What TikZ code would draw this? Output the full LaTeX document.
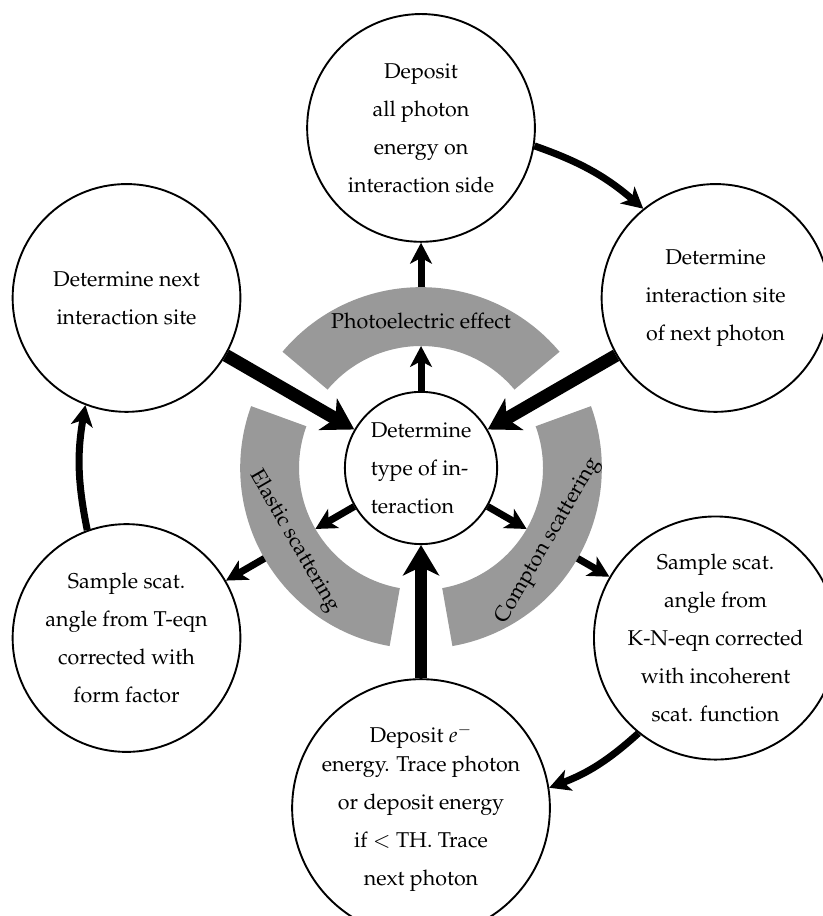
\documentclass[tikz,border=0pt]{standalone}
\usepackage[T1]{fontenc}
\usepackage{mathpazo}
\usetikzlibrary{arrows.meta}

\begin{document}
\begin{tikzpicture}[
    >=Stealth,
    stage/.style={circle, draw, line width=1pt, minimum size=4.22cm, inner sep=0pt,
      align=center, fill=white, font={\fontsize{11.3}{20}\selectfont}},
    core/.style={circle, draw, line width=1pt, minimum size=2.82cm, inner sep=0pt,
      align=left, fill=white, font={\fontsize{11.3}{20}\selectfont}},
    band/.style={fill=black!40},
    bandlab/.style={font={\fontsize{11.3}{13}\selectfont}},
    flow/.style={-{Stealth[length=11pt, width=11.5pt, inset=3pt]}, line width=3.7pt},
    mainflow/.style={-{Stealth[length=16pt, width=19pt, inset=4.5pt]}, line width=6.8pt}
  ]
  \useasboundingbox (-7.80,-8.30) rectangle (7.43,8.67);

  \foreach \a in {40,160,280}
    \fill[band] (\a:2.26) arc[start angle=\a, end angle=\a+100, radius=2.26]
      -- (\a+100:3.35) arc[start angle=\a+100, end angle=\a, radius=3.35] -- cycle;
  \node[bandlab] (pelab) at (90:2.72) {Photoelectric effect};
  \node[bandlab, rotate=-60] (ellab) at (210:2.72) {Elastic scattering};
  \node[bandlab, rotate=60] (colab) at (330:2.72) {Compton scattering};

  \node[core] (type) at (0,0) {Determine\\type of in-\\teraction};
  \node[stage] (photo) at (90:6.3) {Deposit\\all photon\\energy on\\interaction side};
  \node[stage] (nextphot) at (30:6.3) {Determine\\interaction site\\of next photon};
  \node[stage] (kn) at (-30:6.3) {Sample scat.\\angle from\\K-N-eqn corrected\\with incoherent\\scat. function};
  \node[stage] (trace) at (-90:6.3) {Deposit $e^-$\\[-5pt]energy. Trace photon\\or deposit energy\\if $<$ TH. Trace\\next photon};
  \node[stage] (thomson) at (210:6.3) {Sample scat.\\angle from T-eqn\\corrected with\\form factor};
  \node[stage] (nextsite) at (150:6.3) {Determine next\\interaction site};

  \coordinate (pein) at (90:2.26);
  \coordinate (peout) at (90:3.35);
  \coordinate (elin) at (210:2.26);
  \coordinate (elout) at (210:3.35);
  \coordinate (coin) at (330:2.26);
  \coordinate (coout) at (330:3.35);

  \draw[flow] (type) -- (pein);
  \draw[flow] (peout) -- (photo);
  \draw[flow] (type) -- (elin);
  \draw[flow] (elout) -- (thomson);
  \draw[flow] (type) -- (coin);
  \draw[flow] (coout) -- (kn);

  \draw[mainflow] (nextsite) -- (type);
  \draw[mainflow] (nextphot) -- (type);
  \draw[mainflow] (trace) -- (type);

  \draw[flow] (photo.-9.6) to[bend left=10.7] (nextphot.129.6);
  \draw[flow] (kn.-129.6) to[bend left=10.7] (trace.9.6);
  \draw[flow] (thomson.110.4) to[bend left=10.7] (nextsite.249.6);
\end{tikzpicture}
\end{document}
